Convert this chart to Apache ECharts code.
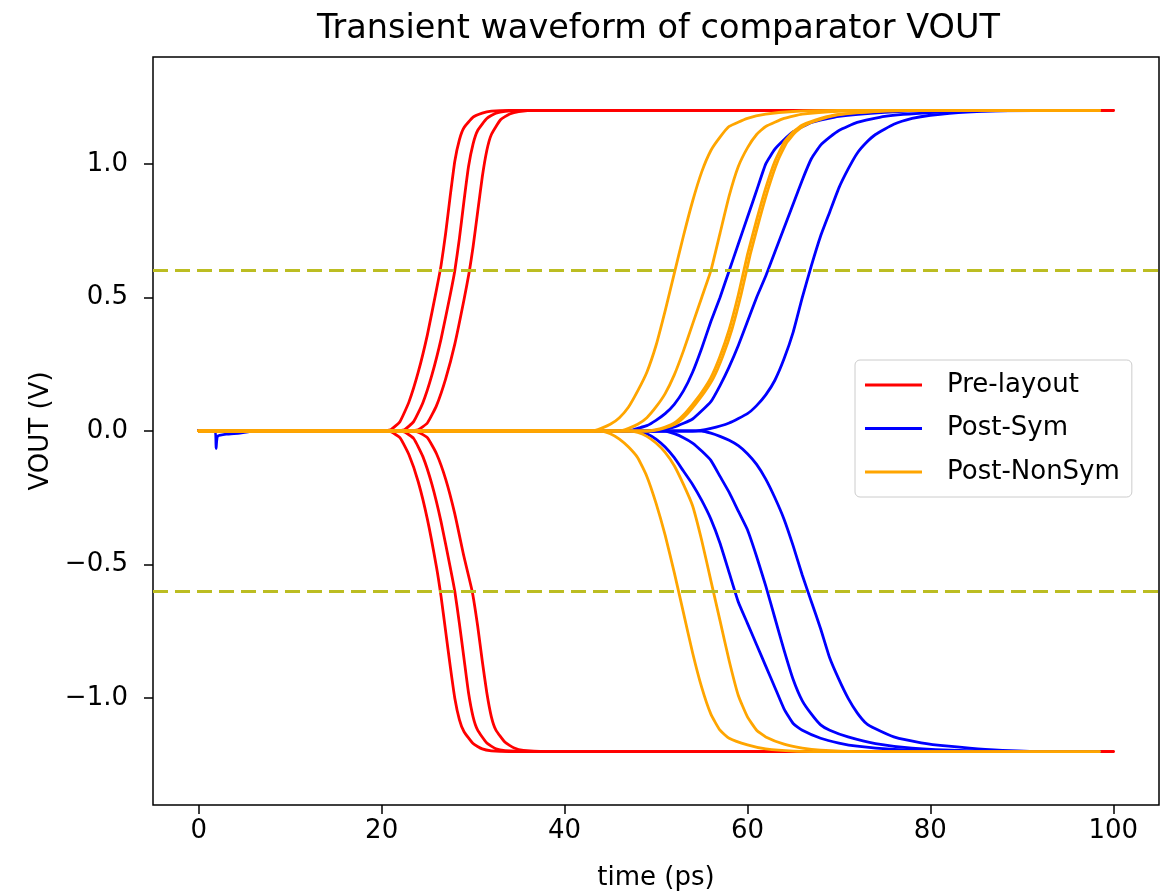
<!DOCTYPE html>
<html>
<head>
<meta charset="utf-8">
<script src="https://cdn.jsdelivr.net/npm/echarts@6/dist/echarts.min.js"></script>
<style>html,body{margin:0;padding:0;background:#fff}#c{width:1162px;height:891px}</style>
</head>
<body>
<div id="c"></div>
<script>
// ---- data (time in ps, VOUT in V) ----
const seriesNames = ['Pre-layout', 'Post-Sym', 'Post-NonSym'];
const xTicks = [0, 20, 40, 60, 80, 100];
const yTicks = [-1.0, -0.5, 0.0, 0.5, 1.0];
const thresholds = [0.6, -0.6];

const preRise1 = [[0,0],[20,0],[21,0.005],[22,0.035],[23,0.11],[24,0.22],[25,0.36],[26,0.53],[26.5,0.62],[27,0.74],[27.5,0.88],[28,1.01],[28.5,1.09],[29,1.135],[30,1.175],[31,1.19],[32,1.197],[34,1.2],[100,1.2]];
const preRise2 = [[0,0],[21.5,0],[22.5,0.005],[23.5,0.035],[24.5,0.105],[25.5,0.21],[26.5,0.345],[27.5,0.51],[28,0.6],[28.5,0.72],[29,0.86],[29.5,0.99],[30,1.075],[30.5,1.125],[31.5,1.17],[32.5,1.19],[33.5,1.197],[36,1.2],[100,1.2]];
const preRise3 = [[0,0],[23,0],[24,0.005],[25,0.03],[26,0.095],[27,0.195],[28,0.325],[29,0.49],[29.6,0.6],[30,0.69],[30.5,0.82],[31,0.95],[31.5,1.05],[32,1.11],[33,1.165],[34,1.187],[35,1.196],[37,1.2],[100,1.2]];
const preFall1 = [[0,0],[20,0],[21,-0.003],[22,-0.025],[23,-0.09],[24,-0.19],[25,-0.33],[26,-0.51],[26.5,-0.62],[27,-0.75],[27.5,-0.88],[28,-1.0],[28.5,-1.08],[29,-1.125],[30,-1.17],[31,-1.19],[32,-1.197],[34,-1.2],[100,-1.2]];
const preFall2 = [[0,0],[21.5,0],[22.5,-0.004],[23.5,-0.028],[24.5,-0.095],[25.5,-0.2],[26.5,-0.34],[27.5,-0.51],[28,-0.6],[28.5,-0.72],[29,-0.85],[29.5,-0.98],[30,-1.07],[30.5,-1.12],[31.5,-1.168],[32.5,-1.19],[33.5,-1.197],[36,-1.2],[100,-1.2]];
const preFall3 = [[0,0],[23,0],[24,-0.004],[25,-0.025],[26,-0.085],[27,-0.18],[28,-0.31],[29,-0.47],[29.9,-0.6],[30.5,-0.73],[31,-0.86],[31.5,-0.98],[32,-1.07],[32.5,-1.12],[33.5,-1.165],[34.5,-1.187],[35.5,-1.196],[38,-1.2],[100,-1.2]];

const symRise1 = [[0,0],[1.8,0],[1.9,-0.065],[2.05,-0.02],[3,-0.012],[4.5,-0.008],[6,0],[47,0],[48,0.01],[49,0.02],[50,0.04],[51,0.065],[52,0.1],[53,0.15],[54,0.22],[55,0.31],[56,0.41],[57,0.5],[58,0.6],[59,0.7],[60,0.8],[61,0.9],[62,1.0],[63,1.055],[64,1.09],[65,1.12],[67,1.155],[70,1.178],[75,1.193],[80,1.199],[98.5,1.2]];
const symRise2 = [[0,0],[50,0],[52,0.015],[54,0.045],[56,0.11],[57,0.17],[58,0.24],[59,0.32],[60,0.41],[61,0.5],[62,0.58],[63,0.67],[64,0.76],[65,0.85],[66,0.94],[67,1.02],[68,1.07],[69,1.1],[70,1.125],[72,1.155],[75,1.178],[80,1.192],[85,1.198],[98.5,1.2]];
const symRise3 = [[0,0],[54,0],[56,0.01],[58,0.03],[60,0.065],[61,0.095],[62,0.135],[63,0.19],[64,0.27],[65,0.37],[66,0.5],[67,0.62],[68,0.73],[69,0.82],[70,0.91],[71,0.98],[72,1.04],[73,1.08],[74,1.11],[76,1.148],[78,1.17],[80,1.182],[84,1.194],[90,1.2],[98.5,1.2]];
const symFall1 = [[0,0],[48,0],[49,-0.01],[50,-0.03],[51,-0.06],[52,-0.1],[53,-0.15],[54,-0.2],[55,-0.26],[56,-0.33],[57,-0.42],[58,-0.53],[59,-0.64],[60,-0.72],[61,-0.8],[62,-0.88],[63,-0.96],[64,-1.04],[65,-1.095],[66,-1.12],[68,-1.15],[70,-1.168],[72,-1.18],[76,-1.192],[82,-1.199],[98.5,-1.2]];
const symFall2 = [[0,0],[51,0],[52,-0.01],[53,-0.025],[54,-0.045],[55,-0.075],[56,-0.11],[57,-0.17],[58,-0.23],[59,-0.3],[60,-0.37],[61,-0.47],[62,-0.58],[63,-0.7],[64,-0.82],[65,-0.93],[66,-1.01],[67,-1.06],[68,-1.1],[69,-1.12],[71,-1.145],[74,-1.17],[78,-1.187],[84,-1.197],[90,-1.2],[98.5,-1.2]];
const symFall3 = [[0,0],[55,0],[56,-0.008],[57,-0.02],[58,-0.035],[59,-0.055],[60,-0.085],[61,-0.125],[62,-0.18],[63,-0.25],[64,-0.33],[65,-0.43],[66,-0.54],[67,-0.64],[68,-0.74],[69,-0.85],[70,-0.93],[71,-1.0],[72,-1.055],[73,-1.095],[74,-1.115],[76,-1.145],[79,-1.167],[82,-1.18],[86,-1.192],[92,-1.2],[98.5,-1.2]];

const nonRise1 = [[0,0],[43,0],[44,0.01],[45,0.025],[46,0.05],[47,0.09],[48,0.15],[49,0.22],[50,0.32],[51,0.45],[52,0.59],[53,0.73],[54,0.86],[55,0.97],[56,1.05],[57,1.1],[58,1.14],[60,1.17],[62,1.186],[65,1.196],[70,1.2],[98.5,1.2]];
const nonRise2 = [[0,0],[46,0],[47,0.01],[48,0.025],[49,0.05],[50,0.09],[51,0.14],[52,0.21],[53,0.3],[54,0.4],[55,0.5],[56,0.6],[57,0.74],[58,0.88],[59,0.99],[60,1.06],[61,1.11],[62,1.14],[64,1.17],[66,1.186],[70,1.197],[75,1.2],[98.5,1.2]];
const nonRise3 = [[0,0],[49,0],[50,0.005],[51,0.015],[52,0.03],[53,0.06],[54,0.1],[55,0.145],[56,0.2],[57,0.28],[58,0.38],[59,0.51],[60,0.66],[61,0.79],[62,0.91],[63,1.01],[64,1.08],[65,1.12],[66,1.145],[68,1.17],[70,1.185],[75,1.198],[80,1.2],[98.5,1.2]];
const nonRise4 = [[0,0],[49.3,0],[50.3,0.005],[51.3,0.015],[52.3,0.03],[53.3,0.06],[54.3,0.1],[55.3,0.145],[56.3,0.2],[57.3,0.28],[58.3,0.38],[59.3,0.51],[60.3,0.66],[61.3,0.79],[62.3,0.91],[63.3,1.01],[64.3,1.08],[65.3,1.12],[66.3,1.145],[68.3,1.17],[70.3,1.185],[75.3,1.198],[80.3,1.2],[98.5,1.2]];
const nonFall1 = [[0,0],[44,0],[45,-0.01],[46,-0.03],[47,-0.06],[48,-0.1],[49,-0.17],[50,-0.27],[51,-0.39],[52,-0.53],[53,-0.68],[54,-0.83],[55,-0.96],[56,-1.06],[57,-1.12],[58,-1.15],[60,-1.175],[62,-1.19],[65,-1.198],[70,-1.2],[98.5,-1.2]];
const nonFall2 = [[0,0],[47,0],[48,-0.005],[49,-0.02],[50,-0.045],[51,-0.08],[52,-0.13],[53,-0.2],[54,-0.28],[55,-0.41],[56,-0.56],[57,-0.71],[58,-0.86],[59,-0.99],[60,-1.07],[61,-1.12],[62,-1.145],[64,-1.172],[66,-1.187],[68,-1.195],[72,-1.2],[98.5,-1.2]];

const groups = [
  { name: seriesNames[0], color: '#ff0000', curves: [preRise1, preRise2, preRise3, preFall1, preFall2, preFall3] },
  { name: seriesNames[1], color: '#0000ff', curves: [symRise1, symRise2, symRise3, symFall1, symFall2, symFall3] },
  { name: seriesNames[2], color: '#ffa500', curves: [nonRise1, nonRise2, nonRise3, nonRise4, nonFall1, nonFall2] }
];

const FONT = 'DejaVu Sans';
const series = [];
groups.forEach((g, gi) => {
  g.curves.forEach((d, ci) => {
    const s = {
      name: g.name, type: 'line', data: d, symbol: 'none', showSymbol: false,
      smooth: 0.15,
      lineStyle: { color: g.color, width: 2.8, join: 'round', cap: 'round' }, itemStyle: { color: g.color },
      z: 2 + gi, animation: false
    };
    if (gi === 0 && ci === 0) {
      s.markLine = {
        silent: true, symbol: 'none', label: { show: false }, animation: false,
        lineStyle: { color: '#bcbd22', type: [15, 7], width: 3 },
        data: thresholds.map(v => ({ yAxis: v }))
      };
    }
    series.push(s);
  });
});

const fmtY = v => (v < 0 ? '\u2212' : '') + Math.abs(v).toFixed(1);

const chart = echarts.init(document.getElementById('c'), null, { renderer: 'canvas' });
chart.setOption({
  backgroundColor: '#ffffff',
  animation: false,
  textStyle: { fontFamily: FONT },
  title: {
    text: 'Transient waveform of comparator VOUT',
    left: 312, top: 7,
    textStyle: { fontFamily: FONT, fontSize: 33.5, fontWeight: 'normal', color: '#000' }
  },
  grid: { left: 153, right: 3, top: 57, bottom: 86, show: true, borderColor: '#000', borderWidth: 1.5, backgroundColor: '#fff', containLabel: false, outerBoundsMode: 'none' },
  legend: {
    data: seriesNames, orient: 'vertical', left: 855, top: 360,
    icon: 'rect', itemWidth: 57, itemHeight: 3, itemGap: 17.5,
    padding: [12, 12, 12, 10],
    backgroundColor: 'rgba(255,255,255,0.8)', borderColor: '#cccccc', borderWidth: 1, borderRadius: 5,
    textStyle: { fontFamily: FONT, fontSize: 26, lineHeight: 26, color: '#000', padding: [0, 0, 0, 20] }
  },
  xAxis: {
    type: 'value', min: -5, max: 105,
    name: 'time (ps)', nameLocation: 'middle', nameGap: 60,
    nameTextStyle: { fontFamily: FONT, fontSize: 26, color: '#000' },
    axisLine: { show: false, onZero: false },
    splitLine: { show: false },
    axisTick: { show: true, length: 9, lineStyle: { color: '#000', width: 1.5 }, customValues: xTicks },
    axisLabel: { fontFamily: FONT, fontSize: 26, color: '#000', margin: 13, customValues: xTicks, formatter: v => String(v) }
  },
  yAxis: {
    type: 'value', min: -1.4, max: 1.4,
    name: 'VOUT (V)', nameLocation: 'middle', nameGap: 97, nameRotate: 90,
    nameTextStyle: { fontFamily: FONT, fontSize: 26, color: '#000' },
    axisLine: { show: false, onZero: false },
    splitLine: { show: false },
    axisTick: { show: true, length: 9, lineStyle: { color: '#000', width: 1.5 }, customValues: yTicks },
    axisLabel: { fontFamily: FONT, fontSize: 26, color: '#000', margin: 25, customValues: yTicks, formatter: fmtY }
  },
  series: series
});
</script>
</body>
</html>
